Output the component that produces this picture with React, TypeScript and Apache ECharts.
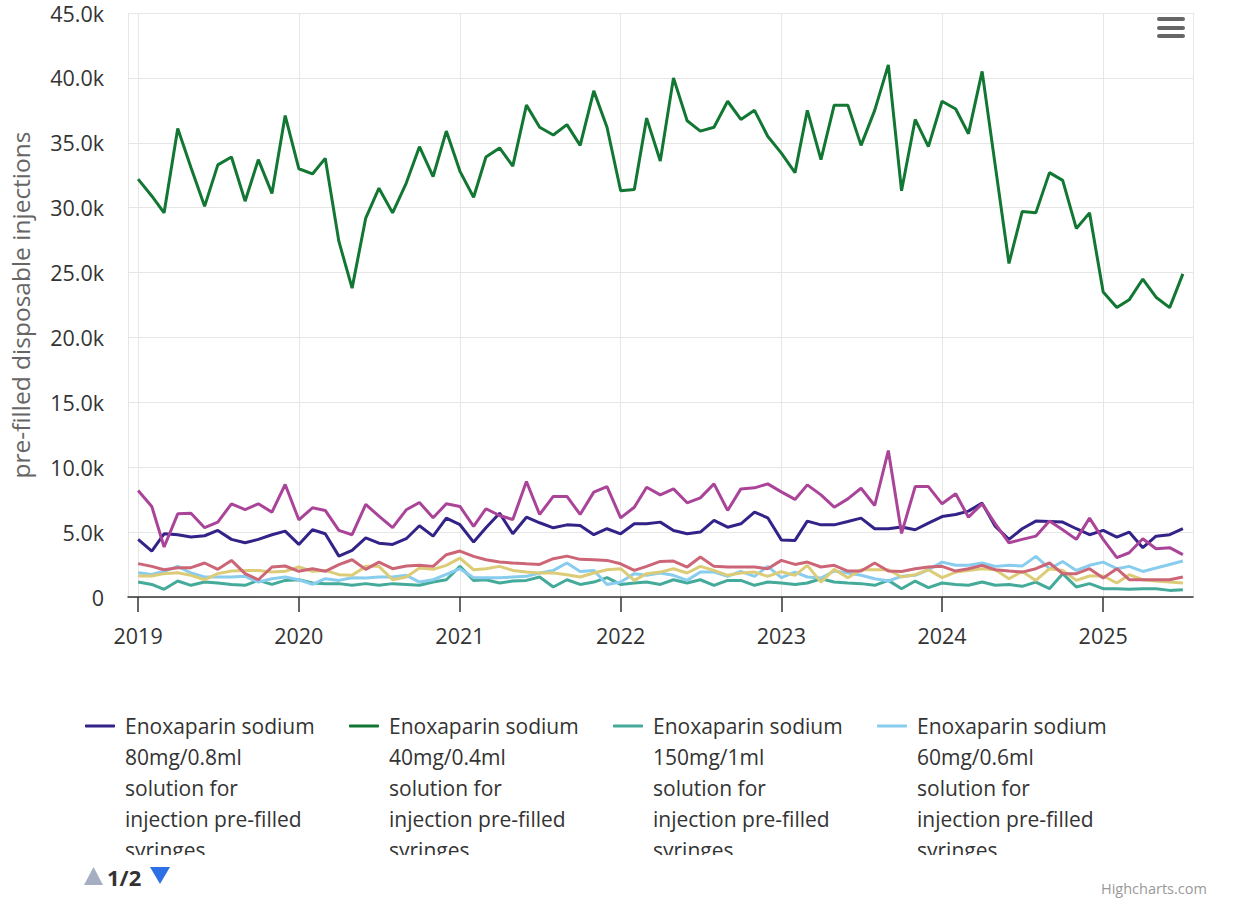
import React, { useEffect, useRef } from "react";
import * as echarts from "echarts";

const FONT = '"Open Sans", "Noto Sans", sans-serif';

// Months Jan 2019 .. Jul 2025 (79 points)
const months: number[] = Array.from({ length: 79 }, (_, i) => Date.UTC(2019, i, 1));

const seriesNames = [
  "Enoxaparin sodium 80mg/0.8ml solution for injection pre-filled syringes",
  "Enoxaparin sodium 40mg/0.4ml solution for injection pre-filled syringes",
  "Enoxaparin sodium 150mg/1ml solution for injection pre-filled syringes",
  "Enoxaparin sodium 60mg/0.6ml solution for injection pre-filled syringes",
  "Enoxaparin sodium 100mg/1ml solution for injection pre-filled syringes",
  "Enoxaparin sodium 120mg/0.8ml solution for injection pre-filled syringes",
  "Enoxaparin sodium 20mg/0.2ml solution for injection pre-filled syringes",
];

const legendLabels = [
  "Enoxaparin sodium\n80mg/0.8ml\nsolution for\ninjection pre-filled\nsyringes",
  "Enoxaparin sodium\n40mg/0.4ml\nsolution for\ninjection pre-filled\nsyringes",
  "Enoxaparin sodium\n150mg/1ml\nsolution for\ninjection pre-filled\nsyringes",
  "Enoxaparin sodium\n60mg/0.6ml\nsolution for\ninjection pre-filled\nsyringes",
];

const seriesColors = ["#332288", "#117733", "#44AA99", "#88CCEE", "#DDCC77", "#CC6677", "#AA4499"];

const v80mg = [
  4440, 3540, 4870, 4800, 4620, 4720, 5130, 4440, 4180, 4440, 4800, 5080,
  4050, 5180, 4870, 3150, 3590, 4560, 4150, 4050, 4490, 5490, 4690, 6080,
  5570, 4230, 5330, 6460, 4870, 6150, 5720, 5330, 5560, 5510, 4800, 5260,
  4870, 5640, 5640, 5770, 5130, 4870, 5000, 5900, 5380, 5640, 6540, 6100,
  4400, 4360, 5850, 5560, 5560, 5820, 6080, 5260, 5260, 5390, 5180, 5690,
  6200, 6360, 6620, 7230, 5440, 4440, 5260, 5850, 5820, 5770, 5260, 4800,
  5130, 4620, 5000, 3800, 4690, 4800, 5260,
];

const v40mg = [
  32200, 30900, 29600, 36100, 33100, 30100, 33300, 33900, 30500, 33700, 31100, 37100,
  33000, 32600, 33800, 27400, 23800, 29200, 31500, 29600, 31900, 34700, 32400, 35900,
  32800, 30800, 33900, 34600, 33200, 37900, 36200, 35600, 36400, 34800, 39000, 36200,
  31300, 31400, 36900, 33600, 40000, 36700, 35900, 36200, 38200, 36800, 37500, 35500,
  34200, 32700, 37500, 33700, 37900, 37900, 34800, 37500, 41000, 31300, 36800, 34700,
  38200, 37600, 35700, 40500, 33200, 25700, 29700, 29600, 32700, 32100, 28400, 29600,
  23500, 22300, 22900, 24500, 23100, 22300, 24900,
];

const v150mg = [
  1150, 970, 590, 1230, 900, 1150, 1080, 970, 900, 1280, 970, 1280,
  1330, 1080, 1030, 1030, 900, 1030, 900, 1030, 970, 900, 1150, 1330,
  2360, 1280, 1330, 1080, 1230, 1280, 1540, 770, 1330, 970, 1150, 1490,
  970, 1080, 1150, 970, 1330, 1080, 1330, 900, 1280, 1280, 900, 1150,
  1080, 970, 1080, 1410, 1150, 1080, 1030, 900, 1280, 640, 1230, 720,
  1080, 970, 900, 1150, 900, 970, 820, 1150, 640, 1800, 770, 1030,
  640, 640, 590, 640, 640, 510, 560,
];

const v60mg = [
  1870, 1740, 1980, 2360, 1850, 1540, 1540, 1540, 1590, 1150, 1410, 1540,
  1330, 970, 1410, 1280, 1490, 1460, 1540, 1540, 1670, 1150, 1330, 1740,
  2180, 1490, 1490, 1490, 1540, 1590, 1850, 2050, 2620, 1970, 2050, 970,
  1150, 1800, 1670, 1850, 1670, 1280, 1920, 1920, 1590, 1970, 1590, 2360,
  1490, 1920, 1540, 1460, 2000, 1850, 1670, 1410, 1230, 1590, 1670, 2100,
  2690, 2440, 2440, 2620, 2360, 2440, 2380, 3130, 2180, 2740, 2050, 2440,
  2690, 2180, 2360, 1970, 2230, 2510, 2770,
];

const v100mg = [
  1620, 1620, 1800, 1870, 1670, 1330, 1800, 2000, 2050, 2050, 1920, 1980,
  2310, 1980, 2050, 1720, 1670, 2360, 2360, 1330, 1540, 2230, 2130, 2440,
  3000, 2100, 2180, 2360, 2050, 1920, 1850, 1850, 1720, 1540, 1850, 2100,
  2180, 1280, 1800, 1920, 2180, 1850, 2360, 2050, 1670, 1850, 1920, 1590,
  1950, 1670, 2440, 1150, 2130, 1490, 2100, 2100, 2100, 1540, 1720, 2100,
  1490, 1920, 2050, 2180, 2100, 1410, 1970, 1280, 2180, 2050, 1280, 1620,
  1620, 1080, 1720, 1330, 1230, 1150, 1080,
];

const v120mg = [
  2570, 2360, 2100, 2260, 2260, 2620, 2130, 2820, 1800, 1330, 2310, 2390,
  1980, 2180, 1980, 2490, 2870, 2130, 2690, 2180, 2390, 2440, 2360, 3260,
  3540, 3130, 2870, 2690, 2620, 2560, 2510, 2950, 3150, 2900, 2870, 2820,
  2560, 2050, 2360, 2740, 2770, 2310, 3080, 2360, 2310, 2310, 2310, 2180,
  2820, 2510, 2690, 2310, 2440, 2000, 2000, 2620, 2000, 1970, 2180, 2310,
  2360, 2000, 2180, 2440, 2100, 2000, 1920, 2180, 2620, 1800, 1800, 2180,
  1460, 2180, 1330, 1330, 1330, 1330, 1540,
];

const v20mg = [
  8200, 6980, 3850, 6410, 6460, 5340, 5770, 7180, 6740, 7180, 6540, 8670,
  5950, 6870, 6670, 5130, 4800, 7130, 6230, 5340, 6720, 7280, 6100, 7180,
  6980, 5440, 6800, 6280, 5970, 8900, 6360, 7750, 7750, 6360, 8080, 8510,
  6100, 6920, 8460, 7870, 8330, 7260, 7640, 8720, 6670, 8330, 8410, 8720,
  8100, 7520, 8640, 7870, 6920, 7560, 8380, 7050, 11280, 4900, 8510, 8510,
  7180, 7950, 6150, 7180, 5640, 4180, 4440, 4690, 5850, 5180, 4440, 6080,
  4440, 3030, 3410, 4490, 3720, 3800, 3260,
];

const seriesValues = [v80mg, v40mg, v150mg, v60mg, v100mg, v120mg, v20mg];

const yTitle = "pre-filled disposable injections";

export default function App() {
  const ref = useRef<HTMLDivElement>(null);

  useEffect(() => {
    if (!ref.current) return;
    const chart = echarts.init(ref.current, undefined, { renderer: "svg" });

    const series = seriesNames.map((name, si) => ({
      name,
      type: "line",
      data: months.map((t, i) => [t, seriesValues[si][i]]),
      showSymbol: false,
      symbol: "none",
      color: seriesColors[si],
      lineStyle: { width: 3, color: seriesColors[si] },
      emphasis: { disabled: true },
    }));

    // legend text block is centred on the icon: four leading blank lines put the
    // first line of the label level with the icon
    const legends = legendLabels.map((label, i) => ({
      data: [seriesNames[i]],
      left: 85 + 264 * i,
      top: 586.5,
      padding: 0,
      orient: "horizontal",
      icon: "roundRect",
      itemWidth: 30,
      itemHeight: 3,
      formatter: () => "\n\n\n\n" + label,
      textStyle: {
        fontFamily: FONT,
        fontSize: 21,
        lineHeight: 31,
        color: "#333333",
        padding: [0, 0, 0, 5],
      },
    }));

    const option: any = {
      animation: false,
      backgroundColor: "#ffffff",
      color: seriesColors,
      textStyle: { fontFamily: FONT },
      grid: { left: 128, right: 58, top: 13, height: 584 },
      xAxis: {
        type: "time",
        min: Date.UTC(2018, 11, 9),
        max: Date.UTC(2025, 6, 24),
        minInterval: 365 * 86400000,
        maxInterval: 366 * 86400000,
        axisLine: { show: true, lineStyle: { color: "#333333", width: 1.5 } },
        axisTick: { show: true, length: 15, lineStyle: { color: "#333333", width: 1.5 } },
        splitLine: { show: true, lineStyle: { color: "#e6e6e6", width: 1 } },
        axisLabel: {
          formatter: "{yyyy}",
          fontSize: 21.5,
          color: "#333333",
          fontFamily: FONT,
          margin: 27,
        },
      },
      yAxis: {
        type: "value",
        min: 0,
        max: 45000,
        interval: 5000,
        name: yTitle,
        nameLocation: "middle",
        nameRotate: 90,
        nameGap: 95,
        nameTextStyle: { fontSize: 24.5, color: "#666666", fontFamily: FONT },
        axisLine: { show: false },
        axisTick: { show: false },
        splitLine: { show: true, lineStyle: { color: "#e6e6e6", width: 1 } },
        axisLabel: {
          fontSize: 21.5,
          lineHeight: 20,
          color: "#333333",
          fontFamily: FONT,
          margin: 24,
          formatter: (v: number) => (v === 0 ? "0" : (v / 1000).toFixed(1) + "k"),
        },
      },
      legend: legends,
      series,
      graphic: [
        // hamburger menu icon
        { type: "rect", left: 1157, top: 17, shape: { width: 28, height: 4, r: 2 }, style: { fill: "#666666" }, z: 100 },
        { type: "rect", left: 1157, top: 26, shape: { width: 28, height: 4, r: 2 }, style: { fill: "#666666" }, z: 100 },
        { type: "rect", left: 1157, top: 34, shape: { width: 28, height: 4, r: 2 }, style: { fill: "#666666" }, z: 100 },
        // clip of the legend's last row
        { type: "rect", left: 70, top: 855, shape: { width: 1120, height: 12 }, style: { fill: "#ffffff" }, z: 100 },
        // legend paging
        { type: "polygon", shape: { points: [[84, 885], [93.5, 867], [103, 885]] }, style: { fill: "#a6aec2" }, z: 101 },
        {
          type: "text",
          left: 107,
          top: 866,
          style: { text: "1/2", fontSize: 22, lineHeight: 19, fontWeight: "bold", fill: "#333333", fontFamily: FONT },
          z: 101,
        },
        { type: "polygon", shape: { points: [[150, 867], [170, 867], [160, 884]] }, style: { fill: "#2e6fe6" }, z: 101 },
        // credits
        {
          type: "text",
          left: 1101,
          top: 881,
          style: { text: "Highcharts.com", fontSize: 14.5, fill: "#999999", fontFamily: FONT },
          z: 101,
        },
      ],
    };

    chart.setOption(option);
    return () => chart.dispose();
  }, []);

  return (
    <div
      ref={ref}
      style={{ position: "absolute", left: 0, top: 0, width: 1251, height: 909 }}
    />
  );
}
